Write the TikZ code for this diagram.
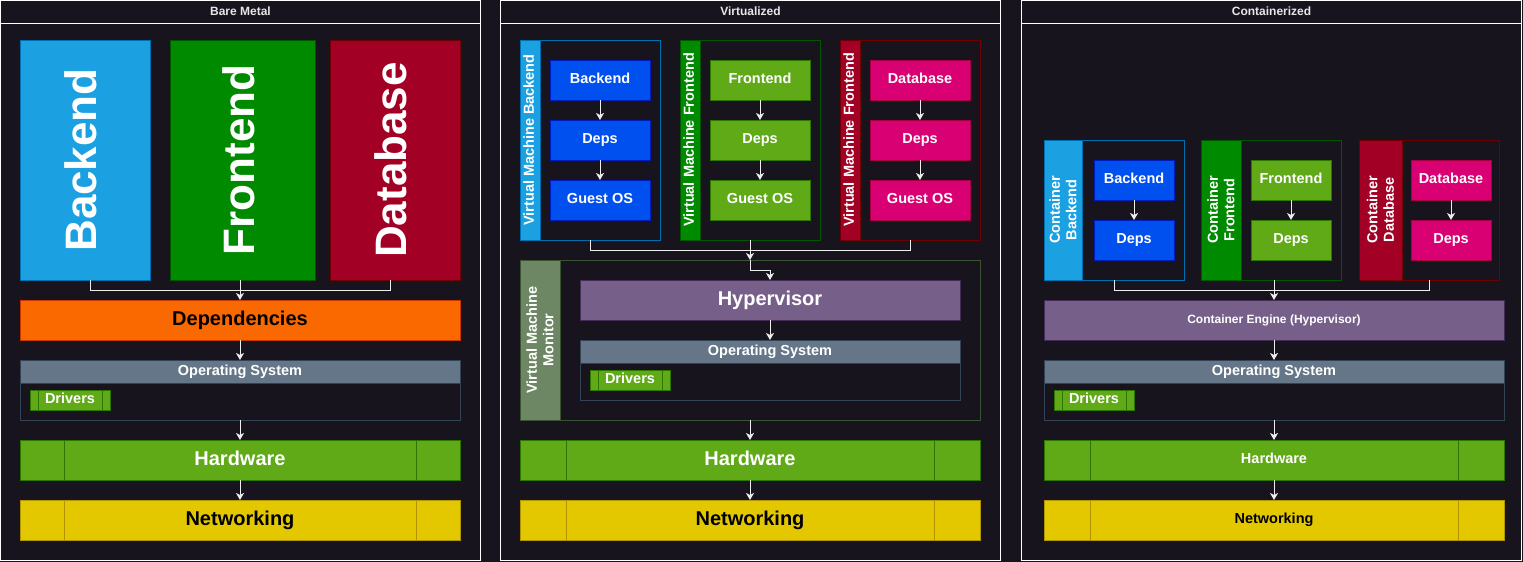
\documentclass[tikz,border=0pt]{standalone}
\usepackage{fontspec}
\setmainfont{Liberation Sans}
\usetikzlibrary{arrows.meta}
\definecolor{bg}{HTML}{18141D}
\definecolor{linec}{HTML}{EEEEEE}
\definecolor{hdr}{HTML}{E6E6E6}
\definecolor{blueLf}{HTML}{1BA1E2}\definecolor{blueLs}{HTML}{006EAF}
\definecolor{grnDf}{HTML}{008A00}\definecolor{grnDs}{HTML}{005700}
\definecolor{crimf}{HTML}{A20025}\definecolor{crims}{HTML}{6F0000}
\definecolor{orgf}{HTML}{FA6800}\definecolor{orgs}{HTML}{C73500}
\definecolor{slatef}{HTML}{647687}\definecolor{slates}{HTML}{314354}
\definecolor{grnf}{HTML}{60A917}\definecolor{grns}{HTML}{2D7600}
\definecolor{yelf}{HTML}{E3C800}\definecolor{yels}{HTML}{B09500}
\definecolor{cobf}{HTML}{0050EF}\definecolor{cobs}{HTML}{001DBC}
\definecolor{magf}{HTML}{D80073}\definecolor{mags}{HTML}{A50040}
\definecolor{purf}{HTML}{76608A}\definecolor{purs}{HTML}{432D57}
\definecolor{olvf}{HTML}{6D8764}\definecolor{olvs}{HTML}{3A5431}
\begin{document}
\begin{tikzpicture}[x=1pt,y=-1pt,
  blk/.style={draw, line width=1pt, inner sep=0pt, outer sep=0pt, anchor=north west, text=white, align=center},
  rot/.style={blk, anchor=center, rotate=90},
  panel/.style={draw=white, fill=bg, line width=1pt, inner sep=0pt, outer sep=0pt, anchor=north west, minimum height=560pt},
  ttl/.style={text=hdr, font=\fontsize{12}{14}\selectfont\bfseries, inner sep=0pt},
  tA/.style={font=\fontsize{44}{48}\selectfont\bfseries, text height=33pt, text depth=9.2pt},
  tB/.style={font=\fontsize{20}{24}\selectfont\bfseries, text height=15pt, text depth=4.2pt},
  tC/.style={font=\fontsize{14.5}{16.5}\selectfont\bfseries, text height=10.9pt, text depth=3pt},
  tD/.style={font=\fontsize{12}{14}\selectfont\bfseries, text height=9pt, text depth=2.5pt},
  ml/.style={text height=, text depth=},
  ln/.style={draw=linec, line width=1pt},
  arr/.style={ln, -{Stealth[width=8pt,length=7pt,inset=2pt]}},
  c-blueL/.style={fill=blueLf, draw=blueLs},
  c-grnD/.style={fill=grnDf, draw=grnDs},
  c-crim/.style={fill=crimf, draw=crims},
  c-org/.style={fill=orgf, draw=orgs},
  c-slate/.style={fill=slatef, draw=slates},
  c-grn/.style={fill=grnf, draw=grns},
  c-yel/.style={fill=yelf, draw=yels},
  c-cob/.style={fill=cobf, draw=cobs},
  c-mag/.style={fill=magf, draw=mags},
  c-pur/.style={fill=purf, draw=purs},
  c-olv/.style={fill=olvf, draw=olvs},
]
\useasboundingbox[fill=bg] (0,0) rectangle (1523,562);

% ---------------- panels ----------------
\node[panel, minimum width=480pt] (pBM) at (0.5,0.5) {};
\node[panel, minimum width=500pt] (pVM) at (500.5,0.5) {};
\node[panel, minimum width=500pt] (pCT) at (1021.5,0.5) {};
\foreach \p in {pBM,pVM,pCT}{
  \draw[draw=white, line width=1pt] ([yshift=-23pt]\p.north west) -- ([yshift=-23pt]\p.north east);
}
\node[ttl] (tBM) at (240.5,11.5) {Bare Metal};
\node[ttl] (tVM) at (750.5,11.5) {Virtualized};
\node[ttl] (tCT) at (1271.5,11.5) {Containerized};

% ---------------- Bare metal ----------------
\node[rot, c-blueL, tA, minimum width=240pt, minimum height=130pt] (bmB) at (85,160) {Backend};
\node[rot, c-grnD, tA, minimum width=240pt, minimum height=145pt] (bmF) at (242.5,160) {Frontend};
\node[rot, c-crim, tA, minimum width=240pt, minimum height=130pt] (bmD) at (395,160) {Database};
\node[blk, c-org, tB, text=black, minimum width=440pt, minimum height=40pt] (dep) at (20,300) {Dependencies};
\node[blk, fill=bg, draw=slates, minimum width=440pt, minimum height=60pt] (bmOS) at (20,360) {};
\node[blk, c-slate, tC, minimum width=440pt, minimum height=23pt] (bmOSh) at (20,360) {Operating System};
\node[blk, c-grn, tC, minimum width=80pt, minimum height=20pt] (bmDrv) at (30,390) {Drivers};
\node[blk, c-grn, tB, minimum width=440pt, minimum height=40pt] (bmHW) at (20,440) {Hardware};
\node[blk, c-yel, tB, text=black, minimum width=440pt, minimum height=40pt] (bmNet) at (20,500) {Networking};

\coordinate (bmJ) at (240,290);
\draw[ln] ([xshift=5pt]bmB.west) |- (bmJ);
\draw[ln] ([xshift=-5pt]bmD.west) |- (bmJ);
\draw[arr] (dep.north |- bmF.west) -- (dep.north);
\draw[arr] (dep.south) -- (bmOSh.north);
\draw[arr] (bmOS.south) -- (bmHW.north);
\draw[arr] (bmHW.south) -- (bmNet.north);

% ---------------- Virtualized ----------------
\node[blk, fill=bg, draw=blueLs, minimum width=140pt, minimum height=200pt] (vmB) at (520,40) {};
\node[rot, c-blueL, tC, minimum width=200pt, minimum height=20pt] (vmBl) at (530,140) {Virtual Machine Backend};
\node[blk, c-cob, tC, minimum width=100pt, minimum height=40pt] (vmB1) at (550,60) {Backend};
\node[blk, c-cob, tC, minimum width=100pt, minimum height=40pt] (vmB2) at (550,120) {Deps};
\node[blk, c-cob, tC, minimum width=100pt, minimum height=40pt] (vmB3) at (550,180) {Guest OS};

\node[blk, fill=bg, draw=grnDs, minimum width=140pt, minimum height=200pt] (vmF) at (680,40) {};
\node[rot, c-grnD, tC, minimum width=200pt, minimum height=20pt] (vmFl) at (690,140) {Virtual Machine Frontend};
\node[blk, c-grn, tC, minimum width=100pt, minimum height=40pt] (vmF1) at (710,60) {Frontend};
\node[blk, c-grn, tC, minimum width=100pt, minimum height=40pt] (vmF2) at (710,120) {Deps};
\node[blk, c-grn, tC, minimum width=100pt, minimum height=40pt] (vmF3) at (710,180) {Guest OS};

\node[blk, fill=bg, draw=crims, minimum width=140pt, minimum height=200pt] (vmD) at (840,40) {};
\node[rot, c-crim, tC, minimum width=200pt, minimum height=20pt] (vmDl) at (850,140) {Virtual Machine Frontend};
\node[blk, c-mag, tC, minimum width=100pt, minimum height=40pt] (vmD1) at (870,60) {Database};
\node[blk, c-mag, tC, minimum width=100pt, minimum height=40pt] (vmD2) at (870,120) {Deps};
\node[blk, c-mag, tC, minimum width=100pt, minimum height=40pt] (vmD3) at (870,180) {Guest OS};

\foreach \g in {vmB,vmF,vmD}{
  \draw[arr] (\g1.south) -- (\g2.north);
  \draw[arr] (\g2.south) -- (\g3.north);
}

\node[blk, fill=bg, draw=olvs, minimum width=460pt, minimum height=160pt] (vmM) at (520,260) {};
\node[rot, c-olv, tC, ml, minimum width=160pt, minimum height=40pt] (vmMl) at (540,340) {Virtual Machine\\Monitor};
\node[blk, c-pur, tB, minimum width=380pt, minimum height=40pt] (hyp) at (580,280) {Hypervisor};
\node[blk, fill=bg, draw=slates, minimum width=380pt, minimum height=60pt] (vmOS) at (580,340) {};
\node[blk, c-slate, tC, minimum width=380pt, minimum height=23pt] (vmOSh) at (580,340) {Operating System};
\node[blk, c-grn, tC, minimum width=80pt, minimum height=20pt] (vmDrv) at (590,370) {Drivers};
\node[blk, c-grn, tB, minimum width=460pt, minimum height=40pt] (vmHW) at (520,440) {Hardware};
\node[blk, c-yel, tB, text=black, minimum width=460pt, minimum height=40pt] (vmNet) at (520,500) {Networking};

\coordinate (vmJ) at (750,250);
\draw[ln] (vmB.south) |- (vmJ);
\draw[ln] (vmD.south) |- (vmJ);
\draw[arr] (vmF.south) -- (vmM.north);
\draw[arr] (vmM.north) -- ++(0,10) -| (hyp.north);
\draw[arr] (hyp.south) -- (vmOSh.north);
\draw[arr] (vmM.south) -- (vmHW.north);
\draw[arr] (vmHW.south) -- (vmNet.north);

% ---------------- Containerized ----------------
\node[blk, fill=bg, draw=blueLs, minimum width=140pt, minimum height=140pt] (cB) at (1044,140) {};
\node[rot, c-blueL, tC, ml, minimum width=140pt, minimum height=38pt] (cBl) at (1063,210) {Container\\Backend};
\node[blk, c-cob, tC, minimum width=80pt, minimum height=40pt] (cB1) at (1094,160) {Backend};
\node[blk, c-cob, tC, minimum width=80pt, minimum height=40pt] (cB2) at (1094,220) {Deps};

\node[blk, fill=bg, draw=grnDs, minimum width=140pt, minimum height=140pt] (cF) at (1201,140) {};
\node[rot, c-grnD, tC, ml, minimum width=140pt, minimum height=40pt] (cFl) at (1221,210) {Container\\Frontend};
\node[blk, c-grn, tC, minimum width=80pt, minimum height=40pt] (cF1) at (1251,160) {Frontend};
\node[blk, c-grn, tC, minimum width=80pt, minimum height=40pt] (cF2) at (1251,220) {Deps};

\node[blk, fill=bg, draw=crims, minimum width=140pt, minimum height=140pt] (cD) at (1359,140) {};
\node[rot, c-crim, tC, ml, minimum width=140pt, minimum height=43pt] (cDl) at (1380.5,210) {Container\\Database};
\node[blk, c-mag, tC, minimum width=80pt, minimum height=40pt] (cD1) at (1411,160) {Database};
\node[blk, c-mag, tC, minimum width=80pt, minimum height=40pt] (cD2) at (1411,220) {Deps};

\foreach \g in {cB,cF,cD}{
  \draw[arr] (\g1.south) -- (\g2.north);
}

\node[blk, c-pur, tD, minimum width=460pt, minimum height=40pt] (eng) at (1044,300) {Container Engine (Hypervisor)};
\node[blk, fill=bg, draw=slates, minimum width=460pt, minimum height=60pt] (cOS) at (1044,360) {};
\node[blk, c-slate, tC, minimum width=460pt, minimum height=23pt] (cOSh) at (1044,360) {Operating System};
\node[blk, c-grn, tC, minimum width=80pt, minimum height=20pt] (cDrv) at (1054,390) {Drivers};
\node[blk, c-grn, tC, minimum width=460pt, minimum height=40pt] (cHW) at (1044,440) {Hardware};
\node[blk, c-yel, tC, text=black, minimum width=460pt, minimum height=40pt] (cNet) at (1044,500) {Networking};

\coordinate (cJ) at (1274,290);
\draw[ln] (cB.south) |- (cJ);
\draw[ln] (cD.south) |- (cJ);
\draw[arr] (eng.north |- cF.south) -- (eng.north);
\draw[arr] (eng.south) -- (cOSh.north);
\draw[arr] (cOS.south) -- (cHW.north);
\draw[arr] (cHW.south) -- (cNet.north);

% ---------------- process-shape inner lines ----------------
\foreach \n/\s/\c in {bmHW/44/grns, bmNet/44/yels, vmHW/46/grns, vmNet/46/yels, cHW/46/grns, cNet/46/yels,
                      bmDrv/8/grns, vmDrv/8/grns, cDrv/8/grns}{
  \draw[draw=\c, line width=1pt] ([xshift=\s pt]\n.north west) -- ([xshift=\s pt]\n.south west);
  \draw[draw=\c, line width=1pt] ([xshift=-\s pt]\n.north east) -- ([xshift=-\s pt]\n.south east);
}
\end{tikzpicture}
\end{document}
